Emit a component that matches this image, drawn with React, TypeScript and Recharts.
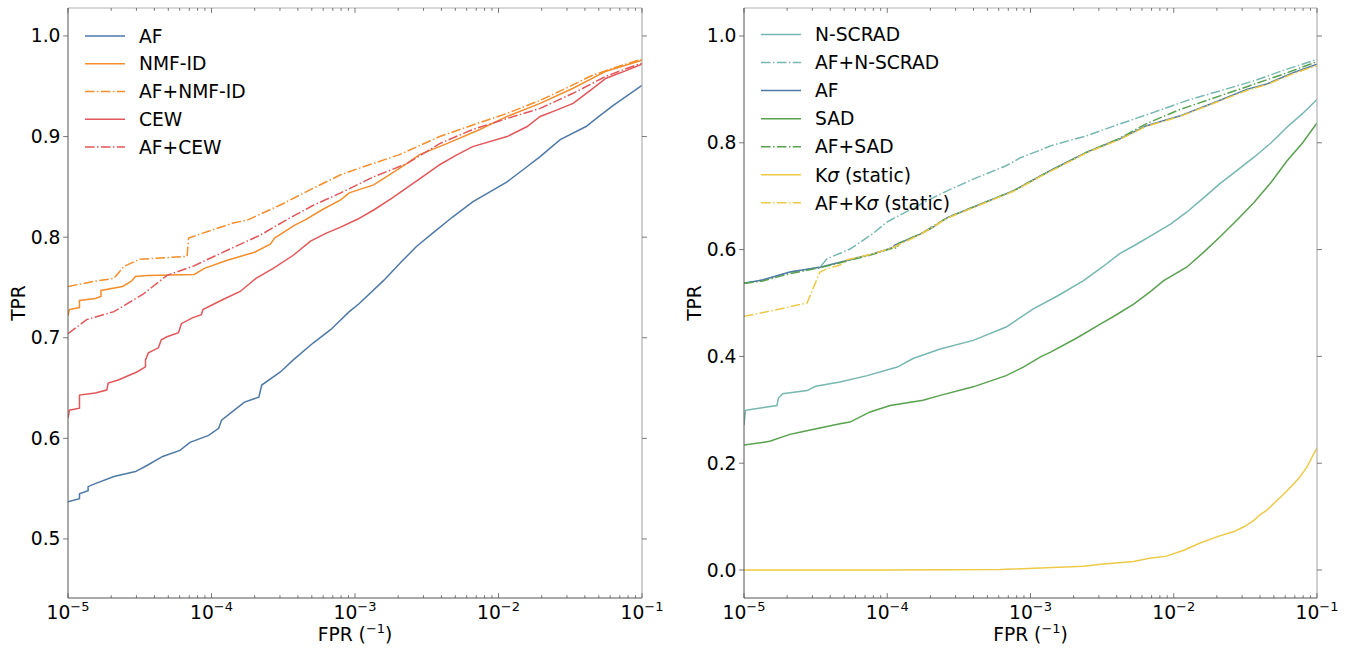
import React from 'react';
import { LineChart, Line, XAxis, YAxis, Legend, Label } from 'recharts';

const FONT = '"DejaVu Sans", "Liberation Sans", sans-serif';
const FS = 18.7;

const C_BLUE = '#4e79a7';
const C_ORANGE = '#f28e2b';
const C_RED = '#e15759';
const C_TEAL = '#76b7b2';
const C_GREEN = '#59a14f';
const C_YELLOW = '#edc948';

// Each point: [log10(FPR), TPR]
// ---- Left panel ----
const L_AF = [[-5.00,0.537],[-4.92,0.540],[-4.92,0.545],[-4.86,0.548],[-4.86,0.552],[-4.81,0.555],[-4.68,0.562],[-4.53,0.567],[-4.45,0.573],[-4.34,0.582],[-4.22,0.588],[-4.15,0.596],[-4.02,0.603],[-3.95,0.610],[-3.93,0.618],[-3.85,0.627],[-3.77,0.636],[-3.67,0.641],[-3.65,0.653],[-3.52,0.666],[-3.43,0.678],[-3.29,0.695],[-3.17,0.708],[-3.04,0.726],[-2.97,0.734],[-2.80,0.757],[-2.68,0.775],[-2.57,0.791],[-2.45,0.805],[-2.32,0.820],[-2.18,0.835],[-2.06,0.845],[-1.94,0.855],[-1.82,0.868],[-1.71,0.880],[-1.57,0.897],[-1.39,0.910],[-1.30,0.920],[-1.20,0.931],[-1.10,0.941],[-1.00,0.951]];
const L_NMF = [[-5.00,0.722],[-4.99,0.728],[-4.92,0.730],[-4.92,0.737],[-4.81,0.739],[-4.77,0.741],[-4.77,0.747],[-4.62,0.751],[-4.56,0.756],[-4.53,0.761],[-4.45,0.762],[-4.12,0.763],[-4.05,0.769],[-3.89,0.777],[-3.70,0.785],[-3.59,0.793],[-3.56,0.799],[-3.42,0.812],[-3.35,0.817],[-3.22,0.828],[-3.10,0.837],[-3.04,0.844],[-2.87,0.852],[-2.75,0.863],[-2.64,0.873],[-2.55,0.882],[-2.36,0.893],[-2.13,0.907],[-1.94,0.920],[-1.71,0.933],[-1.48,0.948],[-1.25,0.965],[-1.00,0.976]];
const L_AF_NMF = [[-5.00,0.751],[-4.82,0.756],[-4.68,0.759],[-4.61,0.771],[-4.50,0.778],[-4.17,0.781],[-4.16,0.799],[-4.06,0.804],[-3.85,0.814],[-3.75,0.817],[-3.52,0.832],[-3.30,0.848],[-3.10,0.862],[-2.90,0.872],[-2.69,0.882],[-2.41,0.900],[-2.17,0.912],[-1.94,0.923],[-1.71,0.936],[-1.53,0.948],[-1.36,0.960],[-1.18,0.969],[-1.00,0.977]];
const L_CEW = [[-5.00,0.620],[-4.99,0.628],[-4.92,0.630],[-4.92,0.643],[-4.81,0.645],[-4.73,0.648],[-4.72,0.655],[-4.65,0.658],[-4.52,0.666],[-4.46,0.671],[-4.46,0.678],[-4.44,0.685],[-4.37,0.690],[-4.35,0.698],[-4.31,0.701],[-4.23,0.705],[-4.21,0.714],[-4.13,0.720],[-4.07,0.723],[-4.06,0.728],[-3.92,0.738],[-3.80,0.746],[-3.69,0.759],[-3.57,0.769],[-3.43,0.782],[-3.31,0.796],[-3.20,0.804],[-3.10,0.810],[-2.98,0.818],[-2.87,0.827],[-2.75,0.838],[-2.64,0.849],[-2.52,0.861],[-2.41,0.872],[-2.30,0.881],[-2.18,0.890],[-1.94,0.900],[-1.80,0.910],[-1.71,0.920],[-1.60,0.926],[-1.48,0.933],[-1.36,0.946],[-1.25,0.958],[-1.12,0.965],[-1.00,0.972]];
const L_AF_CEW = [[-5.00,0.704],[-4.87,0.718],[-4.68,0.726],[-4.48,0.743],[-4.31,0.762],[-4.13,0.771],[-3.89,0.787],[-3.66,0.802],[-3.48,0.817],[-3.30,0.831],[-3.10,0.844],[-2.87,0.860],[-2.64,0.873],[-2.41,0.893],[-2.18,0.907],[-1.94,0.918],[-1.71,0.928],[-1.48,0.943],[-1.25,0.960],[-1.12,0.967],[-1.00,0.973]];

// ---- Right panel ----
const R_NSCRAD = [[-5.00,0.271],[-4.99,0.299],[-4.92,0.302],[-4.77,0.308],[-4.76,0.322],[-4.73,0.330],[-4.56,0.336],[-4.50,0.344],[-4.33,0.352],[-4.14,0.364],[-3.93,0.380],[-3.82,0.396],[-3.63,0.414],[-3.40,0.430],[-3.17,0.455],[-2.98,0.489],[-2.80,0.515],[-2.63,0.542],[-2.50,0.567],[-2.38,0.592],[-2.26,0.610],[-2.14,0.629],[-2.02,0.648],[-1.91,0.670],[-1.80,0.695],[-1.68,0.723],[-1.56,0.748],[-1.44,0.773],[-1.32,0.800],[-1.21,0.829],[-1.10,0.855],[-1.00,0.881]];
const R_AF_NSCRAD = [[-5.00,0.537],[-4.87,0.543],[-4.68,0.558],[-4.47,0.567],[-4.42,0.583],[-4.26,0.601],[-4.10,0.630],[-4.00,0.652],[-3.86,0.672],[-3.63,0.704],[-3.40,0.732],[-3.17,0.757],[-3.07,0.772],[-2.84,0.796],[-2.61,0.813],[-2.38,0.835],[-2.14,0.857],[-1.91,0.879],[-1.68,0.897],[-1.44,0.916],[-1.21,0.938],[-1.00,0.956]];
const R_AF = [[-5.00,0.537],[-4.87,0.543],[-4.68,0.558],[-4.47,0.567],[-4.26,0.581],[-4.10,0.592],[-3.96,0.604],[-3.95,0.608],[-3.77,0.629],[-3.70,0.639],[-3.58,0.660],[-3.35,0.685],[-3.12,0.710],[-2.93,0.738],[-2.84,0.751],[-2.61,0.782],[-2.38,0.807],[-2.19,0.832],[-1.96,0.850],[-1.72,0.875],[-1.49,0.900],[-1.35,0.910],[-1.17,0.931],[-1.00,0.947]];
const R_SAD = [[-5.00,0.234],[-4.82,0.241],[-4.68,0.254],[-4.61,0.258],[-4.52,0.263],[-4.33,0.274],[-4.26,0.277],[-4.12,0.296],[-3.98,0.308],[-3.75,0.318],[-3.63,0.327],[-3.40,0.343],[-3.17,0.364],[-3.05,0.380],[-2.93,0.399],[-2.86,0.408],[-2.68,0.434],[-2.51,0.461],[-2.40,0.478],[-2.28,0.498],[-2.17,0.520],[-2.07,0.542],[-1.91,0.567],[-1.80,0.593],[-1.68,0.623],[-1.56,0.655],[-1.44,0.688],[-1.32,0.726],[-1.21,0.766],[-1.10,0.800],[-1.00,0.837]];
const R_AF_SAD = [[-5.00,0.537],[-4.87,0.541],[-4.68,0.555],[-4.47,0.566],[-4.26,0.580],[-4.10,0.591],[-3.96,0.603],[-3.93,0.603],[-3.92,0.612],[-3.77,0.629],[-3.58,0.660],[-3.35,0.685],[-3.12,0.710],[-2.93,0.738],[-2.61,0.782],[-2.38,0.808],[-2.19,0.836],[-1.96,0.862],[-1.72,0.884],[-1.49,0.905],[-1.21,0.931],[-1.00,0.952]];
const R_KSIGMA = [[-5.00,0.000],[-4.00,0.000],[-3.21,0.001],[-2.63,0.007],[-2.51,0.011],[-2.28,0.016],[-2.17,0.022],[-2.05,0.026],[-1.93,0.037],[-1.82,0.050],[-1.70,0.062],[-1.58,0.072],[-1.51,0.081],[-1.44,0.093],[-1.40,0.103],[-1.35,0.112],[-1.30,0.125],[-1.24,0.140],[-1.17,0.159],[-1.12,0.174],[-1.07,0.193],[-1.00,0.229]];
const R_AF_KSIGMA = [[-5.00,0.475],[-4.80,0.486],[-4.56,0.500],[-4.47,0.558],[-4.42,0.564],[-4.31,0.573],[-4.28,0.581],[-4.10,0.592],[-3.96,0.604],[-3.77,0.628],[-3.58,0.659],[-3.35,0.684],[-3.12,0.709],[-2.93,0.737],[-2.61,0.781],[-2.38,0.806],[-2.19,0.831],[-1.96,0.849],[-1.72,0.874],[-1.49,0.898],[-1.35,0.909],[-1.17,0.929],[-1.00,0.945]];

// Axes
const X_MAJOR_EXP = [-5, -4, -3, -2, -1];
const X_MINOR_MULT = [2, 3, 4, 5, 6, 7, 8, 9];
const LEFT_Y_TICKS = [0.5, 0.6, 0.7, 0.8, 0.9, 1.0];
const RIGHT_Y_TICKS = [0.0, 0.2, 0.4, 0.6, 0.8, 1.0];
const LEFT_Y_DOMAIN = [0.4413, 1.0278];
const RIGHT_Y_DOMAIN = [-0.0524, 1.0524];
const X_DOMAIN = [1e-5, 1e-1];

const DASHDOT = '9.6 2.4 1.5 2.4';

const X_TICKS: number[] = [];
X_MAJOR_EXP.forEach((e, i) => {
  X_TICKS.push(Math.pow(10, e));
  if (i < X_MAJOR_EXP.length - 1) X_MINOR_MULT.forEach((m) => X_TICKS.push(m * Math.pow(10, e)));
});

const toData = (pts: number[][]) => pts.map(([e, t]) => ({ x: Math.pow(10, e), y: t }));

const LEFT_SERIES = [
  { name: 'AF', pts: L_AF, color: C_BLUE, dash: false },
  { name: 'NMF-ID', pts: L_NMF, color: C_ORANGE, dash: false },
  { name: 'AF+NMF-ID', pts: L_AF_NMF, color: C_ORANGE, dash: true },
  { name: 'CEW', pts: L_CEW, color: C_RED, dash: false },
  { name: 'AF+CEW', pts: L_AF_CEW, color: C_RED, dash: true },
];

const RIGHT_SERIES = [
  { name: 'N-SCRAD', pts: R_NSCRAD, color: C_TEAL, dash: false },
  { name: 'AF+N-SCRAD', pts: R_AF_NSCRAD, color: C_TEAL, dash: true },
  { name: 'AF', pts: R_AF, color: C_BLUE, dash: false },
  { name: 'SAD', pts: R_SAD, color: C_GREEN, dash: false },
  { name: 'AF+SAD', pts: R_AF_SAD, color: C_GREEN, dash: true },
  { name: 'Kσ (static)', pts: R_KSIGMA, color: C_YELLOW, dash: false },
  { name: 'AF+Kσ (static)', pts: R_AF_KSIGMA, color: C_YELLOW, dash: true },
];

const isMajor = (v: number) => {
  const lg = Math.log10(v);
  return Math.abs(lg - Math.round(lg)) < 1e-6;
};

const BottomTick = (props: any) => {
  const { x, y, payload } = props;
  const v = payload.value;
  const major = isMajor(v);
  const ex = Math.round(Math.log10(v));
  return (
    <g>
      <line x1={x} x2={x} y1={y} y2={y - (major ? 4.9 : 2.8)} stroke="#555" strokeWidth={0.8} />
      {major && (
        <text x={x} y={y + 21} textAnchor="middle" fontFamily={FONT} fontSize={FS} fill="#000">
          <tspan>10</tspan>
          <tspan dy={-8} fontSize={13}>{'\u2212' + Math.abs(ex)}</tspan>
        </text>
      )}
    </g>
  );
};

const TopTick = (props: any) => {
  const { x, y, payload } = props;
  const major = isMajor(payload.value);
  return <line x1={x} x2={x} y1={y} y2={y + (major ? 4.9 : 2.8)} stroke="#555" strokeWidth={0.8} />;
};

const LeftTick = (props: any) => {
  const { x, y, payload } = props;
  return (
    <g>
      <line x1={x - 4.9} x2={x} y1={y} y2={y} stroke="#555" strokeWidth={0.8} />
      <text x={x - 7.5} y={y} textAnchor="end" dominantBaseline="central" fontFamily={FONT} fontSize={FS} fill="#000">
        {Number(payload.value).toFixed(1)}
      </text>
    </g>
  );
};

const RightTick = (props: any) => {
  const { x, y } = props;
  return <line x1={x} x2={x + 4.9} y1={y} y2={y} stroke="#555" strokeWidth={0.8} />;
};

const renderXLabel = (props: any) => {
  const vb = props.viewBox || {};
  const cx = vb.x + vb.width / 2;
  return (
    <text x={cx} y={vb.y + 43} textAnchor="middle" fontFamily={FONT} fontSize={FS} fill="#000">
      <tspan>FPR (</tspan>
      <tspan dy={-8} fontSize={13}>{'\u22121'}</tspan>
      <tspan dy={8}>)</tspan>
    </text>
  );
};

const renderYLabel = (props: any) => {
  const vb = props.viewBox || {};
  const cy = vb.y + vb.height / 2;
  return (
    <text x={18} y={cy} transform={`rotate(-90, 18, ${cy})`} textAnchor="middle" dominantBaseline="central" fontFamily={FONT} fontSize={FS} fill="#000">
      TPR
    </text>
  );
};

const renderName = (name: string) => {
  if (name.includes('σ')) {
    const [a, b] = name.split('σ');
    return (
      <>
        <tspan>{a}</tspan>
        <tspan fontStyle="italic">σ</tspan>
        <tspan>{b}</tspan>
      </>
    );
  }
  return name;
};

const makeLegend = (series: typeof LEFT_SERIES, y0: number, dy: number) => () => (
  <svg width={300} height={240} style={{ display: 'block' }}>
    {series.map((s, i) => {
      const y = y0 + i * dy;
      return (
        <g key={s.name}>
          <line x1={85} x2={125} y1={y} y2={y} stroke={s.color} strokeWidth={1.5} strokeDasharray={s.dash ? DASHDOT : undefined} />
          <text x={139} y={y} dominantBaseline="central" fontFamily={FONT} fontSize={FS} fill="#000">
            {renderName(s.name)}
          </text>
        </g>
      );
    })}
  </svg>
);

const Panel = ({ series, yTicks, yDomain, width, marginRight, legendY0, legendDy }: any) => (
  <LineChart width={width} height={648} margin={{ top: 7, right: marginRight, bottom: 0, left: 0 }}>
    <XAxis
      xAxisId="bottom"
      type="number"
      dataKey="x"
      scale="log"
      domain={X_DOMAIN}
      allowDataOverflow
      ticks={X_TICKS}
      interval={0}
      tick={<BottomTick />}
      tickLine={false}
      tickSize={0}
      tickMargin={0}
      height={50}
      axisLine={{ stroke: '#555', strokeWidth: 1 }}
      orientation="bottom"
    >
      <Label content={renderXLabel} />
    </XAxis>
    <XAxis
      xAxisId="top"
      type="number"
      dataKey="x"
      scale="log"
      domain={X_DOMAIN}
      allowDataOverflow
      ticks={X_TICKS}
      interval={0}
      tick={<TopTick />}
      tickLine={false}
      tickSize={0}
      tickMargin={0}
      height={1}
      axisLine={{ stroke: '#b0b0b0', strokeWidth: 1.2 }}
      orientation="top"
    />
    <YAxis
      yAxisId="left"
      type="number"
      domain={yDomain}
      allowDataOverflow
      ticks={yTicks}
      interval={0}
      tick={<LeftTick />}
      tickLine={false}
      tickSize={0}
      tickMargin={0}
      width={68}
      axisLine={{ stroke: '#555', strokeWidth: 1 }}
      orientation="left"
    >
      <Label content={renderYLabel} />
    </YAxis>
    <YAxis
      yAxisId="right"
      type="number"
      domain={yDomain}
      allowDataOverflow
      ticks={yTicks}
      interval={0}
      tick={<RightTick />}
      tickLine={false}
      tickSize={0}
      tickMargin={0}
      width={1}
      axisLine={{ stroke: '#b0b0b0', strokeWidth: 1.2 }}
      orientation="right"
    />
    {series.map((s: any) => (
      <Line
        key={s.name}
        xAxisId="bottom"
        yAxisId="left"
        data={toData(s.pts)}
        dataKey="y"
        name={s.name}
        type="linear"
        stroke={s.color}
        strokeWidth={1.5}
        strokeDasharray={s.dash ? DASHDOT : undefined}
        dot={false}
        activeDot={false}
        isAnimationActive={false}
      />
    ))}
    <Legend
      layout="vertical"
      align="center"
      verticalAlign="middle"
      content={makeLegend(series, legendY0, legendDy)}
      wrapperStyle={{ position: 'absolute', left: 0, top: 0, width: 300, height: 240 }}
    />
  </LineChart>
);

export default function App() {
  return (
    <div style={{ position: 'absolute', left: 0, top: 0, width: 1349, height: 648, background: '#fff' }}>
      <div style={{ position: 'absolute', left: 0, top: 0 }}>
        <Panel series={LEFT_SERIES} yTicks={LEFT_Y_TICKS} yDomain={LEFT_Y_DOMAIN} width={676} marginRight={33} legendY0={36} legendDy={27.75} />
      </div>
      <div style={{ position: 'absolute', left: 676, top: 0 }}>
        <Panel series={RIGHT_SERIES} yTicks={RIGHT_Y_TICKS} yDomain={RIGHT_Y_DOMAIN} width={673} marginRight={31} legendY0={34.5} legendDy={28.05} />
      </div>
    </div>
  );
}
